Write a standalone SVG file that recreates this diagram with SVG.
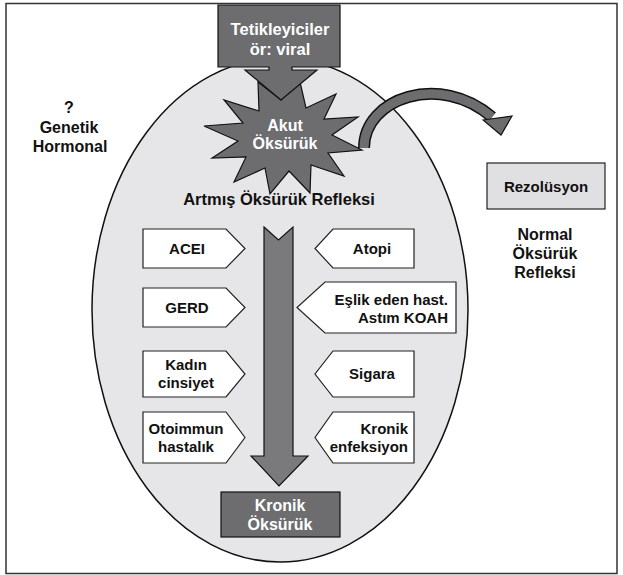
<svg xmlns="http://www.w3.org/2000/svg" width="623" height="575" viewBox="0 0 623 575">
<style>
text{font-family:"Liberation Sans",Arial,sans-serif;font-weight:700;}
.t{font-size:15px;fill:#111;}
.s{font-size:16px;fill:#111;}
.w{font-size:16px;fill:#fff;}
.box{fill:#fff;stroke:#222;stroke-width:1.2;}
.dark{fill:#6d6d6f;stroke:#111;stroke-width:1.2;}
</style>
<rect x="6" y="3.5" width="611" height="570" fill="#fff" stroke="#333" stroke-width="1.5"/>
<g id="ellipse"><ellipse cx="280" cy="310" rx="188" ry="252" fill="#e6e6e8" stroke="#111" stroke-width="1.5"/></g>
<g id="connectors">
<path d="M 364 148 C 364 98, 440 72, 492 117" fill="none" stroke="#111" stroke-width="12"/>
<path d="M 364 148 C 364 98, 440 72, 492 117" fill="none" stroke="#6d6d6f" stroke-width="9"/>
<polygon points="483,120 512,116 501,135" fill="#6d6d6f" stroke="#111" stroke-width="1.2"/>
<polygon points="264,227 278.5,240 293,227 293,456 308,456 279,486 251,456 264,456" fill="#7a7a7c" stroke="#111" stroke-width="1.2"/>
</g>
<g id="akut">
<polygon points="300,82 306,108 336,94 324,119 358,117 332,135 362,150 328,153 344,176 311,165 310,193 289,171 270,194 265,168 234,182 246,157 212,158 238,141 204,126 243,123 224,100 259,111 258,82 281,100" class="dark"/>
<text class="w" x="285" y="131" text-anchor="middle">Akut</text>
<text class="w" x="285" y="149" text-anchor="middle">Öksürük</text>
</g>
<g id="tetikleyiciler">
<polygon points="218,5 340,5 340,67 292,67 292,70 317,70 281,100 245,70 269,70 269,67 218,67" class="dark"/>
<text class="w" x="280" y="35" text-anchor="middle" style="font-size:16.5px">Tetikleyiciler</text>
<text class="w" x="280" y="55" text-anchor="middle" style="font-size:16.5px">ör: viral</text>
</g>
<g id="genetik">
<text class="s" x="69" y="113" text-anchor="middle">?</text>
<text class="s" x="69" y="133" text-anchor="middle">Genetik</text>
<text class="s" x="70" y="152" text-anchor="middle">Hormonal</text>
</g>
<g id="rezolusyon">
<rect x="487" y="163" width="118" height="46" fill="#e0e0e2" stroke="#222" stroke-width="1.2"/>
<text class="t" x="546" y="192" text-anchor="middle">Rezolüsyon</text>
</g>
<g id="normal">
<text class="s" x="545" y="240" text-anchor="middle">Normal</text>
<text class="s" x="545" y="259" text-anchor="middle">Öksürük</text>
<text class="s" x="545" y="278" text-anchor="middle">Refleksi</text>
</g>
<g id="artmis"><text class="t" x="279" y="205" text-anchor="middle" style="font-size:16.5px">Artmış Öksürük Refleksi</text></g>
<g id="acei"><polygon points="143,229 226,229 245,248.5 226,268 143,268" class="box"/><text class="t" x="187" y="254" text-anchor="middle">ACEI</text></g>
<g id="gerd"><polygon points="143,288 226,288 245,307.5 226,327 143,327" class="box"/><text class="t" x="187" y="313" text-anchor="middle">GERD</text></g>
<g id="kadin"><polygon points="143,351 226,351 245,374 226,397 143,397" class="box"/><text class="t" x="186" y="370" text-anchor="middle">Kadın</text><text class="t" x="186" y="388" text-anchor="middle">cinsiyet</text></g>
<g id="otoimmun"><polygon points="143,412 226,412 245,437.5 226,463 143,463" class="box"/><text class="t" x="186" y="434" text-anchor="middle">Otoimmun</text><text class="t" x="186" y="452" text-anchor="middle">hastalık</text></g>
<g id="atopi"><polygon points="414,229 333,229 315,248.5 333,268 414,268" class="box"/><text class="t" x="372" y="254" text-anchor="middle">Atopi</text></g>
<g id="eslik"><polygon points="456,282 325,282 297,307.5 325,333 456,333" class="box"/><text class="t" x="448" y="305" text-anchor="end">Eşlik eden hast.</text><text class="t" x="448" y="323" text-anchor="end">Astım KOAH</text></g>
<g id="sigara"><polygon points="414,351 333,351 315,374 333,397 414,397" class="box"/><text class="t" x="372" y="379" text-anchor="middle">Sigara</text></g>
<g id="kronikenf"><polygon points="414,412 333,412 315,437.5 333,463 414,463" class="box"/><text class="t" x="408" y="434" text-anchor="end">Kronik</text><text class="t" x="408" y="452" text-anchor="end">enfeksiyon</text></g>
<g id="kronikoksuruk"><rect x="221" y="492" width="119" height="45" class="dark"/><text class="w" x="280" y="511" text-anchor="middle">Kronik</text><text class="w" x="280" y="530" text-anchor="middle">Öksürük</text></g>
</svg>
